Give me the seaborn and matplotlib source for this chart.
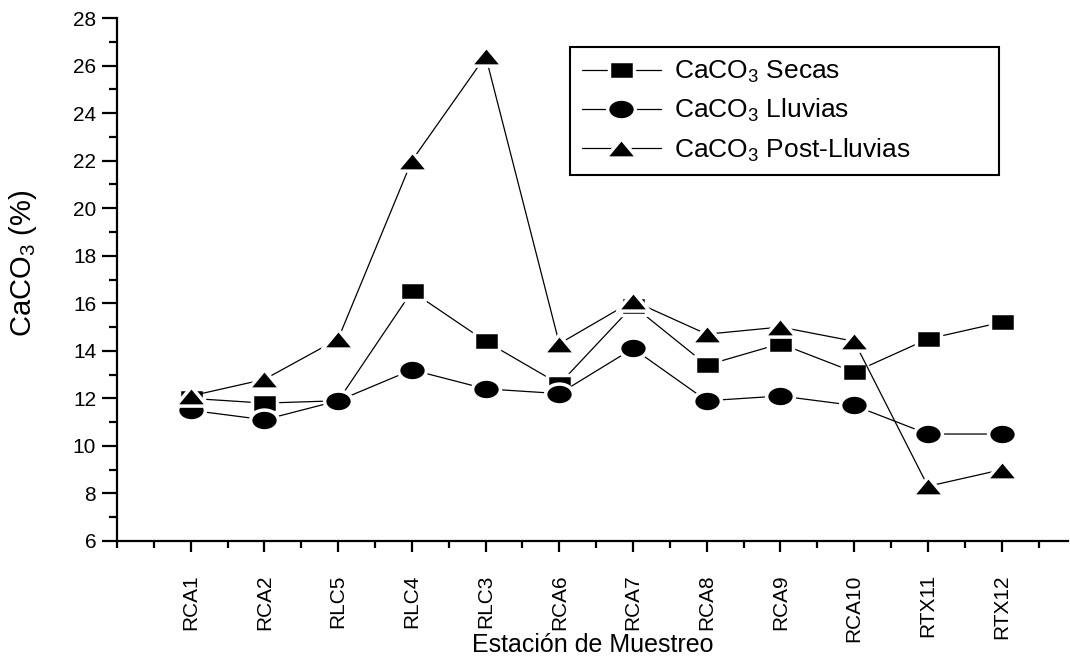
import numpy as np
import pandas as pd
import matplotlib
matplotlib.use("Agg")
import matplotlib.pyplot as plt
from matplotlib.path import Path
from matplotlib.markers import MarkerStyle
from matplotlib.ticker import MultipleLocator
import seaborn as sns

stations = ['RCA1', 'RCA2', 'RLC5', 'RLC4', 'RLC3', 'RCA6', 'RCA7',
            'RCA8', 'RCA9', 'RCA10', 'RTX11', 'RTX12']
secas = [12.0, 11.8, 11.9, 16.5, 14.4, 12.6, 15.9, 13.4, 14.3, 13.1, 14.5, 15.2]
lluvias = [11.5, 11.1, 11.9, 13.2, 12.4, 12.2, 14.1, 11.9, 12.1, 11.7, 10.5, 10.5]
post = [12.1, 12.8, 14.5, 22.0, 26.4, 14.3, 16.1, 14.7, 15.0, 14.4, 8.3, 9.0]
series_labels = [r'CaCO$_3$ Secas', r'CaCO$_3$ Lluvias', r'CaCO$_3$ Post-Lluvias']

sns.set_theme(style='ticks')
plt.rcParams['font.family'] = ['Liberation Sans', 'DejaVu Sans']
plt.rcParams['text.color'] = 'black'
plt.rcParams['axes.labelcolor'] = 'black'
plt.rcParams['mathtext.fontset'] = 'custom'
plt.rcParams['mathtext.rm'] = 'Liberation Sans'
plt.rcParams['mathtext.it'] = 'Liberation Sans:italic'
plt.rcParams['mathtext.bf'] = 'Liberation Sans:bold'

# horizontally stretched markers (as in the reference)
sq = Path([(-1, -0.75), (1, -0.75), (1, 0.75), (-1, 0.75), (-1, -0.75)],
          [Path.MOVETO, Path.LINETO, Path.LINETO, Path.LINETO, Path.CLOSEPOLY])
uc = Path.unit_circle()
ell = Path(uc.vertices * np.array([1.0, 0.75]), uc.codes)
tri = Path([(-1, -0.6), (1, -0.6), (0, 0.6), (-1, -0.6)],
           [Path.MOVETO, Path.LINETO, Path.LINETO, Path.CLOSEPOLY])
markers = [MarkerStyle(sq, joinstyle='round'),
           MarkerStyle(ell, joinstyle='round'),
           MarkerStyle(tri, joinstyle='round')]
msizes = [18, 20, 23]

fig = plt.figure(figsize=(10.7, 6.59), dpi=100)
ax = fig.add_axes([117 / 1070, 1 - 541 / 659, (1068 - 117) / 1070, 523 / 659])

x = np.arange(1, len(stations) + 1)
for vals, lab, m, ms in zip([secas, lluvias, post], series_labels, markers, msizes):
    sns.lineplot(x=x, y=vals, ax=ax, color='black', linewidth=0.9,
                 marker=m, markersize=ms, markerfacecolor='black',
                 markeredgecolor='white', markeredgewidth=2.5, label=lab,
                 sort=False)

ax.set_xlim(0, 12.9)
ax.set_ylim(6, 28)
ax.set_xticks(x)
ax.set_xticklabels(stations, rotation=90, fontsize=15)
ax.xaxis.set_minor_locator(MultipleLocator(0.5))
ax.yaxis.set_major_locator(MultipleLocator(2))
ax.yaxis.set_minor_locator(MultipleLocator(1))
ax.tick_params(axis='y', which='major', length=11, width=1.6, labelsize=15,
               pad=4, color='black', labelcolor='black')
ax.tick_params(axis='y', which='minor', length=6, width=1.6, color='black')
ax.tick_params(axis='x', which='major', length=8, width=1.6, pad=16,
               color='black', labelcolor='black')
ax.tick_params(axis='x', which='minor', length=5, width=1.6, color='black')
for s in ['left', 'bottom']:
    ax.spines[s].set_linewidth(1.6)
    ax.spines[s].set_color('black')
sns.despine(ax=ax)

ax.set_xlabel('Estación de Muestreo', fontsize=18, color='black')
ax.xaxis.set_label_coords(0.5, -0.175)
ax.set_ylabel(r'CaCO$_3$ (%)', fontsize=21, color='black')
ax.yaxis.set_label_coords(-0.082, 0.53)

leg = ax.legend(loc='upper left', bbox_to_anchor=(0.476, 0.704, 0.451, 0.24),
                mode='expand', fontsize=19, labelcolor='black',
                frameon=True, fancybox=False, edgecolor='black', framealpha=1,
                handlelength=3.0, handletextpad=0.5, labelspacing=0.45,
                borderpad=0.45, borderaxespad=0)
leg.get_frame().set_linewidth(1.5)

fig.savefig('out.png', dpi=100)
